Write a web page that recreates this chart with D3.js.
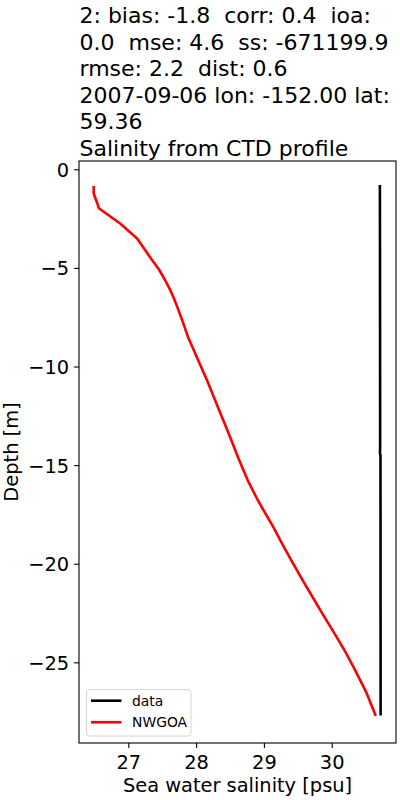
<!DOCTYPE html>
<html>
<head>
<meta charset="utf-8">
<script src="https://cdn.jsdelivr.net/npm/d3@7"></script>
<style>
    body { margin: 0; background: #fff; }
    text { font-family: "DejaVu Sans", sans-serif; }
</style>
</head>
<body>
<div id="chart"></div>
<script>
// title lines
var titleLines = [
    "2: bias: -1.8  corr: 0.4  ioa:",
    "0.0  mse: 4.6  ss: -671199.9",
    "rmse: 2.2  dist: 0.6",
    "2007-09-06 lon: -152.00 lat:",
    "59.36",
    "Salinity from CTD profile"
];

// observed CTD profile
var dataDepth = [-0.8, -1.5, -2.5, -4, -6, -8, -10, -12, -14, -14.4, -14.5, -16, -18, -20, -22, -24, -26, -27.7];
var dataSal = [30.710, 30.711, 30.711, 30.712, 30.712, 30.713, 30.713, 30.714, 30.714, 30.712, 30.719, 30.719, 30.720, 30.720, 30.720, 30.721, 30.721, 30.721];

// model profile
var modelDepth = [-0.85, -1.23, -1.99, -2.75, -3.51, -4.11, -4.6, -5.07, -5.6, -6.13, -6.6, -7.14, -7.8, -8.5, -9.2, -9.83, -10.69, -11.96, -12.8, -13.74, -14.7, -15.76, -16.78, -17.5, -18.21, -18.8, -19.8, -20.83, -21.7, -22.52, -23.53, -24.4, -25.23, -25.9, -26.6, -27.2, -27.72];
var modelSal = [26.49, 26.49, 26.57, 26.88, 27.13, 27.25, 27.35, 27.45, 27.54, 27.62, 27.68, 27.74, 27.81, 27.88, 27.97, 28.05, 28.16, 28.31, 28.41, 28.52, 28.63, 28.76, 28.91, 29.03, 29.15, 29.24, 29.40, 29.57, 29.72, 29.86, 30.04, 30.19, 30.32, 30.42, 30.52, 30.59, 30.65];

var xTicks = [27, 28, 29, 30];
var yTicks = [0, -5, -10, -15, -20, -25];

var series = [
    { name: "data", color: "black", depth: dataDepth, sal: dataSal },
    { name: "NWGOA", color: "red", depth: modelDepth, sal: modelSal }
];

var margin = { top: 161, right: 4, bottom: 57, left: 79 },
    width = 400 - margin.left - margin.right,
    height = 800 - margin.top - margin.bottom;

var svg = d3.select("#chart")
    .append("svg")
    .attr("width", 400)
    .attr("height", 800);

// title
svg.append("g")
    .selectAll("text")
    .data(titleLines)
    .enter()
    .append("text")
    .attr("x", 79.5)
    .attr("y", function(d, i) { return 23.3 + i * 26.5; })
    .style("font-size", "22px")
    .style("white-space", "pre")
    .attr("xml:space", "preserve")
    .text(function(d) { return d; });

var g = svg.append("g")
    .attr("transform", "translate(" + margin.left + "," + margin.top + ")");

var x = d3.scaleLinear()
    .domain([26.273, 30.948])
    .range([0, width]);

var y = d3.scaleLinear()
    .domain([0.42, -29.09])
    .range([0, height]);

// X axis
var xAxis = g.append("g")
    .attr("transform", "translate(0," + height + ")")
    .call(d3.axisBottom(x).tickValues(xTicks).tickSize(4.9).tickPadding(7).tickFormat(d3.format("d")));
xAxis.select(".domain").remove();
xAxis.selectAll("text").style("font-size", "19.4px").attr("fill", "black").attr("font-family", "DejaVu Sans");
xAxis.selectAll("line").attr("stroke", "black").attr("stroke-width", 1.1);

// Y axis
var yAxis = g.append("g")
    .call(d3.axisLeft(y).tickValues(yTicks).tickSize(4.9).tickPadding(5)
        .tickFormat(function(d) { return d < 0 ? "\u2212" + Math.abs(d) : d; }));
yAxis.select(".domain").remove();
yAxis.selectAll("text").style("font-size", "19.4px").attr("fill", "black").attr("dy", "0.36em").attr("font-family", "DejaVu Sans");
yAxis.selectAll("line").attr("stroke", "black").attr("stroke-width", 1.1);

var line = d3.line()
    .x(function(d) { return x(d[0]); })
    .y(function(d) { return y(d[1]); });

g.selectAll(".profile")
    .data(series)
    .enter()
    .append("path")
    .attr("class", "profile")
    .attr("fill", "none")
    .attr("stroke", function(d) { return d.color; })
    .attr("stroke-width", 2.6)
    .attr("stroke-linejoin", "round")
    .attr("d", function(d) {
        return line(d.sal.map(function(s, i) { return [s, d.depth[i]]; }));
    });

// frame
g.append("rect")
    .attr("width", width)
    .attr("height", height)
    .attr("fill", "none")
    .attr("stroke", "black")
    .attr("stroke-width", 1.1);

// axis labels
svg.append("text")
    .attr("x", margin.left + width / 2)
    .attr("y", 792)
    .attr("text-anchor", "middle")
    .style("font-size", "19.4px")
    .text("Sea water salinity [psu]");

svg.append("text")
    .attr("transform", "translate(17.5," + (margin.top + height / 2) + ") rotate(-90)")
    .attr("text-anchor", "middle")
    .style("font-size", "19.4px")
    .text("Depth [m]");

// legend
var legendBox = svg.append("g")
    .attr("transform", "translate(86.5,689.5)");

legendBox.append("rect")
    .attr("width", 104.5)
    .attr("height", 46.5)
    .attr("rx", 3)
    .attr("fill", "white")
    .attr("fill-opacity", 0.8)
    .attr("stroke", "#d6d6d6")
    .attr("stroke-width", 1);

var legend = legendBox.selectAll(".legend")
    .data(series)
    .enter()
    .append("g")
    .attr("class", "legend")
    .attr("transform", function(d, i) { return "translate(0," + (11.2 + i * 21.6) + ")"; });

legend.append("line")
    .attr("x1", 4.5)
    .attr("x2", 35)
    .attr("stroke", function(d) { return d.color; })
    .attr("stroke-width", 2.6);

legend.append("text")
    .attr("x", 45.5)
    .attr("dy", "0.36em")
    .style("font-size", "13.9px")
    .text(function(d) { return d.name; });
</script>
</body>
</html>
